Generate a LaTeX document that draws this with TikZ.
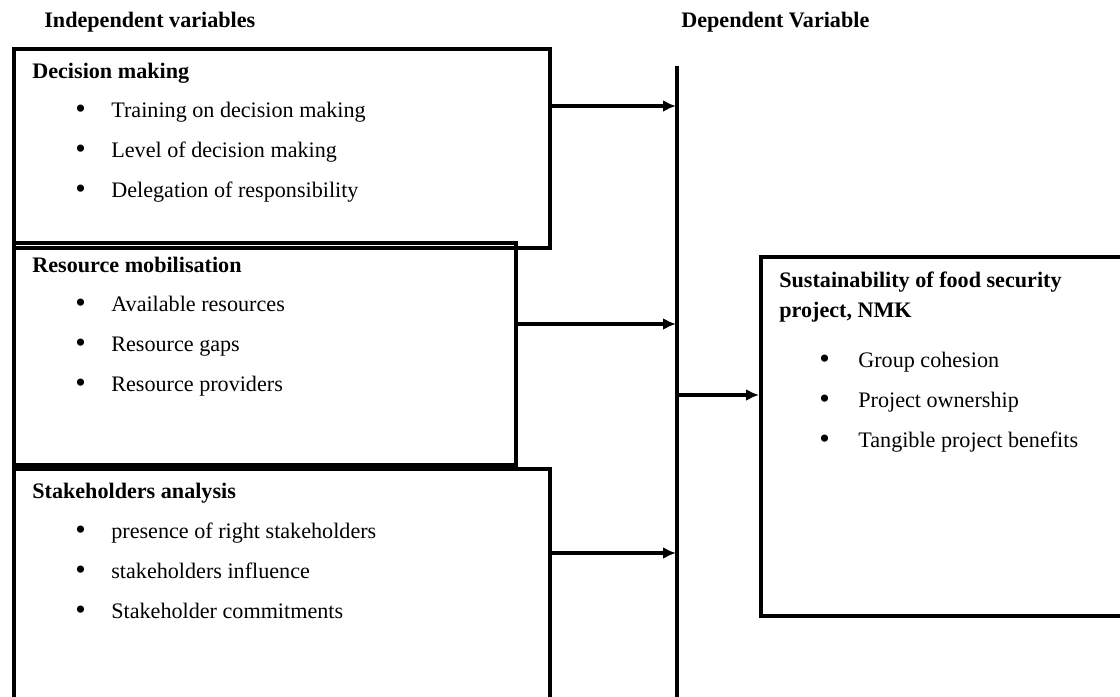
\documentclass[tikz,border=0pt]{standalone}
\usepackage{fontspec}
\setmainfont{Liberation Serif}
\usetikzlibrary{arrows.meta}

\begin{document}
\begin{tikzpicture}[x=0.02cm, y=-0.02cm, font=\fontsize{12.6}{15}\selectfont,
  box/.style={draw, line width=2.5pt, anchor=north west, inner sep=0pt},
  head/.style={anchor=base west, inner sep=0pt, font=\fontsize{12.6}{15}\selectfont\bfseries},
  itm/.style={anchor=base west, inner sep=0pt},
  dot/.style={anchor=base west, inner sep=0pt, font=\fontsize{17}{15}\selectfont},
  arr/.style={-{Latex[length=2.6mm, width=2.4mm]}, line width=2.2pt},
  vline/.style={line width=2.5pt}]
\useasboundingbox (0,0) rectangle (1120,697);
\clip (0,0) rectangle (1120,697);
% column headings
\node[head] (ivh) at (44,27) {Independent\ variables};
\node[head] (dvh) at (681,27) {Dependent\ Variable};
% independent variable boxes
\node[box, minimum width=10.72cm, minimum height=3.98cm] (dm) at (12,47) {};
\node[box, minimum width=10.04cm, minimum height=4.44cm] (rm) at (12,241) {};
\node[box, minimum width=10.72cm, minimum height=5.46cm] (sa) at (12,467) {};
\node[head] (dmt) at (32,78) {Decision making};
\node[head] (rmt) at (32,272) {Resource mobilisation};
\node[head] (sat) at (32,498) {Stakeholders analysis};
\foreach \txt [count=\i from 0] in {Training on decision making, Level of decision making, Delegation of responsibility} {
  \node[dot] (dmb\i) at (75,118+40*\i) {\textbullet};
  \node[itm] (dmi\i) at (111,117+40*\i) {\txt};
}
\foreach \txt [count=\i from 0] in {Available resources, Resource gaps, Resource providers} {
  \node[dot] (rmb\i) at (75,312+40*\i) {\textbullet};
  \node[itm] (rmi\i) at (111,311+40*\i) {\txt};
}
\foreach \txt [count=\i from 0] in {presence of right\ stakeholders, stakeholders influence, Stakeholder commitments} {
  \node[dot] (sab\i) at (75,539+40*\i) {\textbullet};
  \node[itm] (sai\i) at (111,538+40*\i) {\txt};
}
% dependent variable box
\node[box, minimum width=7.62cm, minimum height=7.18cm] (dv) at (759,255) {};
\node[head] (dvt1) at (779,287) {Sustainability of food security};
\node[head] (dvt2) at (779,317) {project, NMK};
\foreach \txt [count=\i from 0] in {Group cohesion, Project ownership, Tangible project benefits} {
  \node[dot] (dvb\i) at (819,368+40*\i) {\textbullet};
  \node[itm] (dvi\i) at (858,367+40*\i) {\txt};
}
% joining line and arrows
\coordinate (vtop) at (677,66);
\coordinate (vbot) at (677,720);
\draw[vline] (vtop) -- (vbot);
\coordinate (in1) at (676,106);
\coordinate (in2) at (676,324);
\coordinate (in3) at (676,553);
\coordinate (out) at (678,395);
\draw[arr] (dm.east |- in1) -- (in1);
\draw[arr] (rm.east |- in2) -- (in2);
\draw[arr] (sa.east |- in3) -- (in3);
\draw[arr] (out) -- (dv.west |- out);
\end{tikzpicture}
\end{document}
